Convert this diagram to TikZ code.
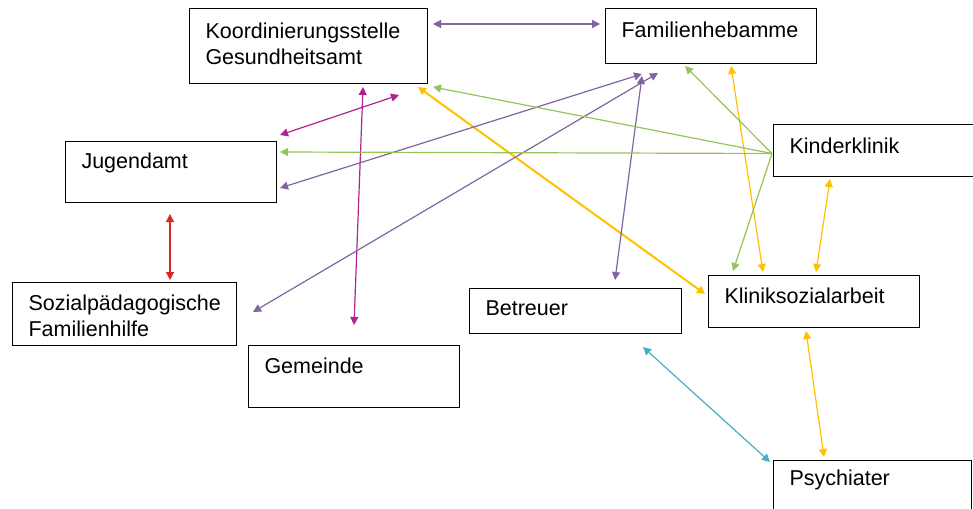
\documentclass[tikz,border=0pt]{standalone}
\usepackage{fontspec}
\setmainfont{Liberation Sans}
\usetikzlibrary{arrows.meta}

\definecolor{purp}{RGB}{128,100,162}
\definecolor{magen}{RGB}{176,36,146}
\definecolor{gold}{RGB}{255,192,0}
\definecolor{leaf}{RGB}{150,196,90}
\definecolor{teal}{RGB}{75,172,198}
\definecolor{redline}{RGB}{214,40,40}

\begin{document}
\begin{tikzpicture}[x=1pt,y=-1pt,>={Triangle[length=8pt,width=8pt]},line width=1.2pt,
  org node/.style n args={3}{draw,line width=1pt,anchor=north west,align=left,inner xsep=16pt,inner ysep=0pt,
    text width=#1,text height=#2,text depth=#3,font=\fontsize{21.5}{26}\selectfont}]
                \useasboundingbox (0,0) rectangle (973,508);
                \node[org node={206pt}{30pt}{45pt}] (koord) at (189,8) {Koordinierungsstelle\\Gesundheitsamt};
                \node[org node={179pt}{29pt}{26pt}] (fam) at (605,8) {Familienhebamme};
                \node[org node={183pt}{29pt}{23pt}] (kinder) at (773,124) {Kinderklinik};
                \node[org node={179pt}{27pt}{34pt}] (jug) at (65,141) {Jugendamt};
                \node[org node={192pt}{28pt}{35pt}] (sozial) at (12,282) {Sozialp\"adagogische\\Familienhilfe};
                \node[org node={179pt}{28pt}{34pt}] (gem) at (248,345) {Gemeinde};
                \node[org node={180pt}{27pt}{18pt}] (betr) at (469,288) {Betreuer};
                \node[org node={179pt}{28pt}{24pt}] (klinik) at (708,275) {Kliniksozialarbeit};
                \node[org node={166pt}{25pt}{70pt}] (psych) at (773,460) {Psychiater};

                \coordinate (kk) at ([shift={(-1,3)}]kinder.west);

                \path[<->]
                    ([shift={(5,16)}]koord.north east) edge[purp] ([shift={(-5,16)}]fam.north west)
                    ([shift={(3,-6)}]jug.north east) edge[magen] ([shift={(-29,11)}]koord.south east)
                    ([shift={(174,3)}]koord.south west) edge[magen] ([shift={(106,-20)}]gem.north west)
                    ([shift={(-10,3)}]koord.south east) edge[gold,line width=2pt] ([shift={(-3,19)}]klinik.north west)
                    ([shift={(3,-15)}]jug.south east) edge[purp] ([shift={(37,10)}]fam.south west)
                    ([shift={(16,30)}]sozial.north east) edge[purp] ([shift={(53,9)}]fam.south west)
                    ([shift={(146,-8)}]betr.north west) edge[purp] ([shift={(37,12)}]fam.south west)
                    ([shift={(126,2)}]fam.south west) edge[gold] ([shift={(55,-3)}]klinik.north west)
                    ([shift={(57,2)}]kinder.south west) edge[gold] ([shift={(108,-3)}]klinik.north west)
                    ([shift={(98,3)}]klinik.south west) edge[gold] ([shift={(51,-3)}]psych.north west)
                    ([shift={(174,13)}]betr.south west) edge[teal] ([shift={(-3,2)}]psych.north west)
                    ([shift={(105,11)}]jug.south west) edge[redline] ([shift={(158,-2)}]sozial.north west)
                    ;
                \path[->,leaf]
                    (kk) edge ([shift={(5,3)}]koord.south east)
                    (kk) edge ([shift={(3,-20)}]jug.east)
                    (kk) edge ([shift={(80,2)}]fam.south west)
                    (kk) edge ([shift={(25,-4)}]klinik.north west)
                    ;
            \end{tikzpicture}
\end{document}
